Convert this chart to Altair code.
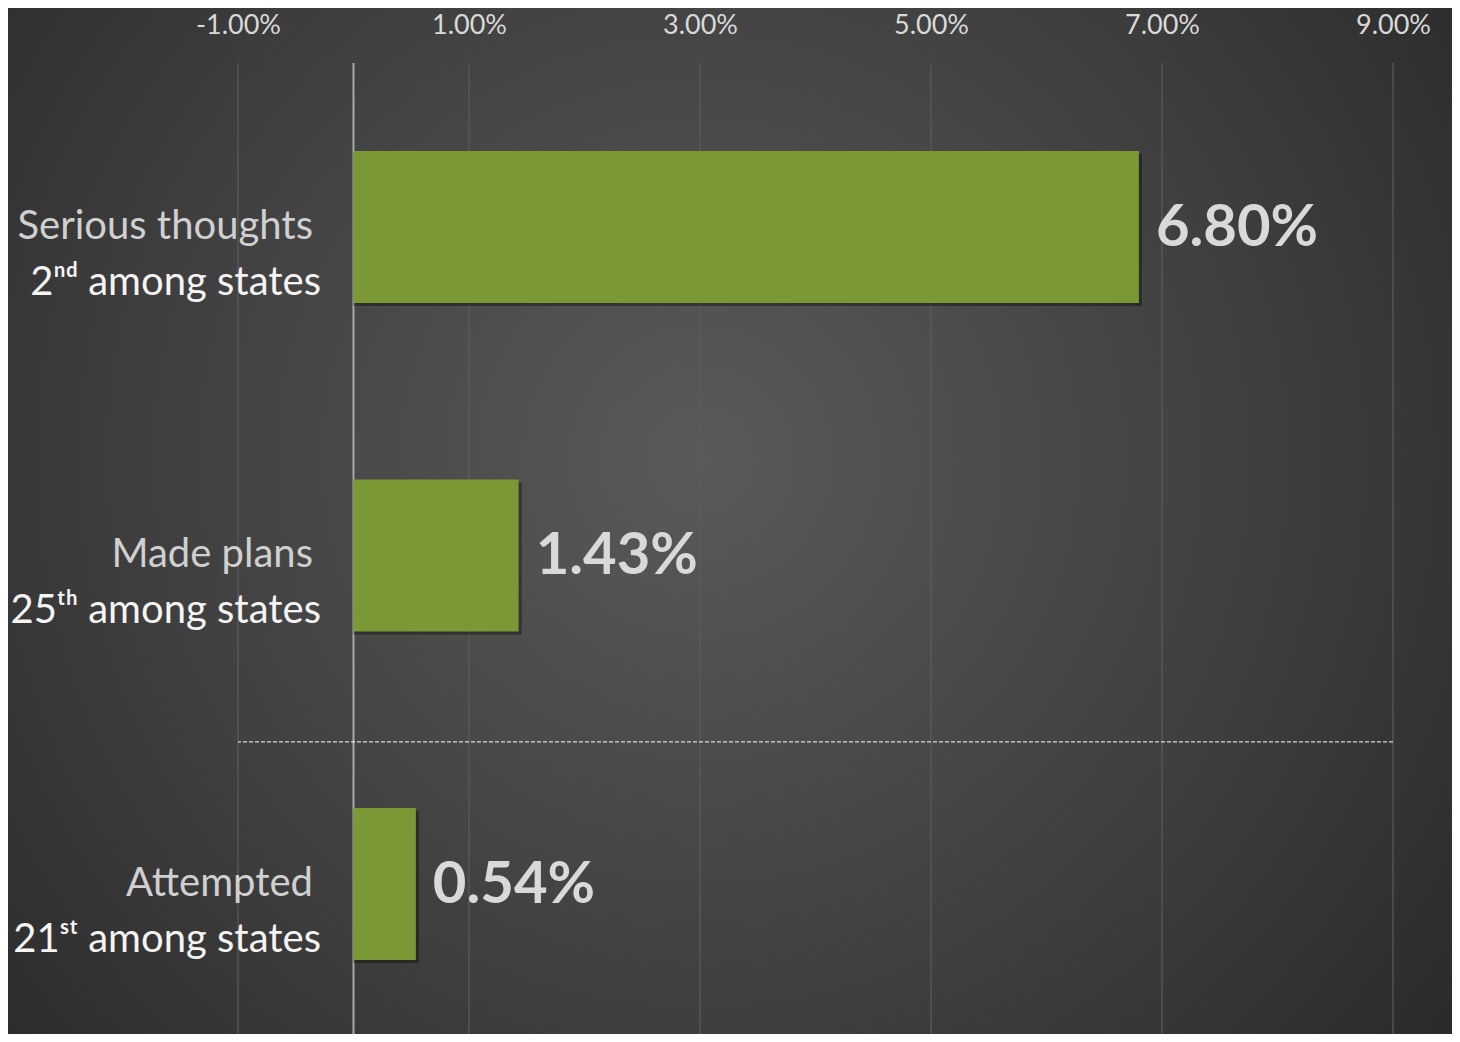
import altair as alt
import pandas as pd

categories = ["Serious thoughts", "Made plans", "Attempted"]
ranks = ["2ⁿᵈ among states", "25ᵗʰ among states", "21ˢᵗ among states"]
values = [0.068, 0.0143, 0.0054]
tick_values = [-0.01, 0.01, 0.03, 0.05, 0.07, 0.09]
separator_before = ["Attempted"]

df = pd.DataFrame({"cat": categories, "rank": ranks, "value": values})
ticks = pd.DataFrame({"t": tick_values})
zero = pd.DataFrame({"t": [0.0]})
sep = pd.DataFrame({"cat": separator_before})
bg = pd.DataFrame({"k": [1]})

W, H = 1155, 971
PL, PT, PR = 230, 55, 59

FONT = "Lato"

xscale = alt.Scale(domain=[-0.01, 0.09], nice=False, zero=False)
yscale = alt.Scale(domain=categories, paddingInner=0.537, paddingOuter=0.2465, align=0.543)
xaxis = alt.Axis(orient="top", values=tick_values, format=".2%",
                 labelExpr="replace(datum.label, '\u2212', '-')",
                 domain=False, ticks=False, grid=False, zindex=1,
                 labelFlush=False, labelOverlap=False, labelBound=False,
                 labelColor="#d9d9d9", labelFontSize=27, labelFont=FONT,
                 labelPadding=24, title=None)


def X(field):
    return alt.X(field, scale=xscale, axis=xaxis, title=None)


def Y(**kw):
    return alt.Y("cat:N", scale=yscale, axis=None, sort=categories, **kw)


background = alt.Chart(bg).mark_rect(
    color=alt.RadialGradient(
        gradient="radial",
        x1=0.48, y1=0.45, r1=0.0,
        x2=0.48, y2=0.45, r2=0.75,
        stops=[
            alt.GradientStop(offset=0, color="#5a5a5a"),
            alt.GradientStop(offset=0.55, color="#3d3d3d"),
            alt.GradientStop(offset=1, color="#232323"),
        ],
    )
).encode(
    x=alt.value(-PL), x2=alt.value(W + PR),
    y=alt.value(-PT), y2=alt.value(H + 20),
)

grid = alt.Chart(ticks).mark_rule(color="#5c5c5c", strokeWidth=1.2).encode(
    x=X("t:Q")
)

zero_line = alt.Chart(zero).mark_rule(color="#a8a8a8", strokeWidth=2).encode(
    x=X("t:Q")
)

shadow = alt.Chart(df).mark_bar(color="#000000", opacity=0.35, xOffset=3, yOffset=3).encode(
    x=X("value:Q"),
    x2=alt.datum(0),
    y=Y(),
)

bars = alt.Chart(df).mark_bar(color="#7a9934").encode(
    x=X("value:Q"),
    x2=alt.datum(0),
    y=Y(),
)

value_labels = alt.Chart(df).mark_text(
    align="left", baseline="middle", dx=17, dy=2, font=FONT, fontWeight="bold",
    fontSize=58, color="#d9d9d9"
).encode(
    x=X("value:Q"),
    y=Y(),
    text=alt.Text("value:Q", format=".2%"),
)

cat_labels = alt.Chart(df).mark_text(
    align="right", baseline="middle", font=FONT, fontSize=40, color="#d0d0d0", dy=0
).encode(
    x=alt.value(75),
    y=Y(),
    text="cat:N",
)

rank_labels = alt.Chart(df).mark_text(
    align="right", baseline="middle", font=FONT, fontSize=40, color="#f4f4f4", dy=56
).encode(
    x=alt.value(83),
    y=Y(),
    text="rank:N",
)

separator = alt.Chart(sep).mark_rule(
    color="#ffffff", strokeWidth=1, strokeDash=[4, 2], yOffset=-66
).encode(
    y=Y(bandPosition=0),
)

chart = alt.layer(
    background, grid, zero_line, shadow, bars, value_labels, cat_labels, rank_labels, separator
).properties(
    width=W, height=H,
    autosize=alt.AutoSizeParams(type="none"),
    padding={"left": PL, "top": PT, "right": PR, "bottom": 0},
).configure_view(stroke=None).configure(background="#2a2a2a")

chart.save("out.html", embed_options={"renderer": "svg", "actions": False})
